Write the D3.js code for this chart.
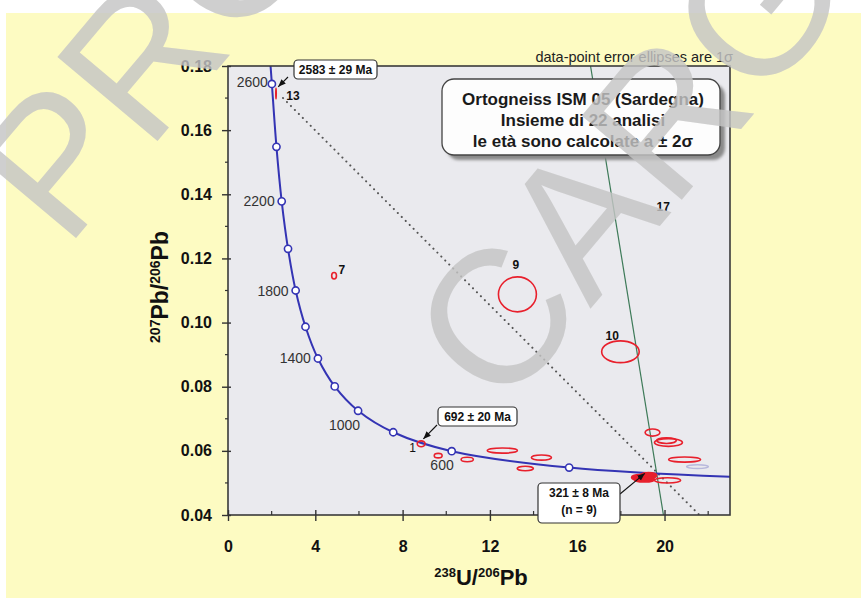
<!DOCTYPE html>
<html>
<head>
<meta charset="utf-8">
<script src="https://cdn.jsdelivr.net/npm/d3@7"></script>
<style>
  html, body { margin: 0; padding: 0; background: #ffffff; }
  svg { display: block; font-family: "Liberation Sans", Arial, sans-serif; }
</style>
</head>
<body>
<svg id="chart" width="861" height="598"></svg>
<script>
// concordia age markers (Ma) and their positions
const concordiaAges = [400, 600, 800, 1000, 1200, 1400, 1600, 1800, 2000, 2200, 2400, 2600];
const concordiaX = [15.63, 10.25, 7.57, 5.96, 4.89, 4.12, 3.55, 3.10, 2.75, 2.46, 2.22, 2.01];
const concordiaY = [0.0548, 0.0599, 0.0658, 0.0725, 0.0801, 0.0888, 0.0987, 0.1100, 0.1230, 0.1378, 0.1548, 0.1744];
// ends of the concordia where it leaves the plot
const concordiaEndX = [1.95, 23.0];
const concordiaEndY = [0.18, 0.0519];

// data-point error ellipses (1 sigma)
const ellipseX  = [2.20, 4.86, 13.26, 17.98, 8.85, 9.63, 10.96, 12.57, 13.62, 14.36, 19.45, 20.18, 20.09, 20.92, 18.90, 19.27, 19.08, 20.14];
const ellipseY  = [0.1714, 0.1146, 0.1088, 0.0909, 0.0622, 0.0585, 0.0573, 0.0601, 0.0545, 0.0579, 0.0657, 0.0626, 0.0632, 0.0573, 0.0517, 0.0523, 0.0511, 0.0508];
const ellipseSx = [0.01, 0.11, 0.87, 0.86, 0.18, 0.18, 0.28, 0.69, 0.37, 0.46, 0.34, 0.64, 0.45, 0.73, 0.41, 0.37, 0.46, 0.60];
const ellipseSy = [0.0017, 0.0010, 0.00545, 0.0034, 0.0009, 0.0007, 0.0007, 0.0008, 0.0007, 0.0008, 0.0011, 0.0012, 0.0009, 0.0008, 0.0009, 0.0009, 0.0008, 0.0008];
const ellipseFilled = [true, false, false, false, false, false, false, false, false, false, false, false, false, false, true, true, true, false];
// excluded analysis drawn faintly
const faintX = [21.51], faintY = [0.0551], faintSx = [0.5], faintSy = [0.0006];

// analysis numbers
const spotLabels = ["13", "7", "9", "10", "17", "1"];
const spotLabelX = [2.98, 5.22, 13.19, 17.60, 19.94, 8.46];
const spotLabelY = [0.1694, 0.1151, 0.1167, 0.0946, 0.1348, 0.0596];

// regression (discordia) line and reference dotted line
const discordiaX = [16.61, 19.95], discordiaY = [0.18, 0.04];
const dottedX = [2.52, 21.60], dottedY = [0.1700, 0.04];

// age results
const ageText = [["2583 ± 29 Ma"], ["692 ± 20 Ma"], ["321 ± 8 Ma", "(n = 9)"]];
const agePointX = [2.30, 8.95, 19.10];
const agePointY = [0.1735, 0.0637, 0.0530];

const xTicks = [0, 4, 8, 12, 16, 20];
const yTicks = [0.04, 0.06, 0.08, 0.10, 0.12, 0.14, 0.16, 0.18];

const titleLines = ["Ortogneiss ISM 05 (Sardegna)", "Insieme di 22 analisi", "le età sono calcolate a ± 2σ"];
const watermarkLines = ["PRO", "CARG"];

const svg = d3.select("#chart");
const W = 861, H = 598;
const pL = 228, pR = 730, pT = 66, pB = 515;

svg.append("rect").attr("x", 6).attr("y", 13).attr("width", W - 6).attr("height", H - 13).attr("fill", "#fdfbc2");

const x = d3.scaleLinear().domain([0, 23.0]).range([pL, pR]);
const y = d3.scaleLinear().domain([0.04, 0.18]).range([pB, pT]);

const defs = svg.append("defs");
defs.append("clipPath").attr("id", "plotclip")
  .append("rect").attr("x", pL).attr("y", pT).attr("width", pR - pL).attr("height", pB - pT);
const mk = defs.append("marker").attr("id", "arrow")
  .attr("viewBox", "0 0 10 10").attr("refX", 10).attr("refY", 5)
  .attr("markerWidth", 7).attr("markerHeight", 7).attr("orient", "auto-start-reverse");
mk.append("path").attr("d", "M0,1 L10,5 L0,9 Z").attr("fill", "#111");
defs.append("filter").attr("id", "blur").append("feGaussianBlur").attr("stdDeviation", 1.5);

svg.append("rect").attr("x", pL).attr("y", pT).attr("width", pR - pL).attr("height", pB - pT)
  .attr("fill", "#eaeaee");

const plot = svg.append("g").attr("clip-path", "url(#plotclip)");

// dotted line
plot.append("line")
  .attr("x1", x(dottedX[0])).attr("y1", y(dottedY[0]))
  .attr("x2", x(dottedX[1])).attr("y2", y(dottedY[1]))
  .attr("stroke", "#555").attr("stroke-width", 2).attr("stroke-linecap", "round")
  .attr("stroke-dasharray", "0.1,5.5");

// discordia
plot.append("line")
  .attr("x1", x(discordiaX[0])).attr("y1", y(discordiaY[0]))
  .attr("x2", x(discordiaX[1])).attr("y2", y(discordiaY[1]))
  .attr("stroke", "#3d7a58").attr("stroke-width", 1.2);

// concordia curve
const curvePts = [[concordiaEndX[0], concordiaEndY[0]]]
  .concat(concordiaX.map((d, i) => [d, concordiaY[i]]).reverse())
  .concat([[concordiaEndX[1], concordiaEndY[1]]]);
plot.append("path")
  .attr("d", d3.line().x(d => x(d[0])).y(d => y(d[1])).curve(d3.curveCatmullRom.alpha(0.5))(curvePts))
  .attr("fill", "none").attr("stroke", "#3434b4").attr("stroke-width", 2);

// ellipses
plot.selectAll("ellipse.faint").data(faintX).enter().append("ellipse")
  .attr("cx", (d, i) => x(d)).attr("cy", (d, i) => y(faintY[i]))
  .attr("rx", (d, i) => x(d + faintSx[i]) - x(d)).attr("ry", (d, i) => y(faintY[i]) - y(faintY[i] + faintSy[i]))
  .attr("fill", "none").attr("stroke", "#b8b8dc").attr("stroke-width", 1.5);

plot.selectAll("ellipse.spot").data(ellipseX).enter().append("ellipse")
  .attr("class", "spot")
  .attr("cx", d => x(d)).attr("cy", (d, i) => y(ellipseY[i]))
  .attr("rx", (d, i) => x(d + ellipseSx[i]) - x(d))
  .attr("ry", (d, i) => y(ellipseY[i]) - y(ellipseY[i] + ellipseSy[i]))
  .attr("fill", (d, i) => ellipseFilled[i] ? "#e8202c" : "none")
  .attr("stroke", "#e8202c").attr("stroke-width", 1.6);

// concordia markers
plot.selectAll("circle.age").data(concordiaX).enter().append("circle")
  .attr("cx", d => x(d)).attr("cy", (d, i) => y(concordiaY[i])).attr("r", 3.6)
  .attr("fill", "#ffffff").attr("stroke", "#3434b4").attr("stroke-width", 1.6);

// age labels on concordia
concordiaAges.forEach((a, i) => {
  if ((a - 600) % 400 !== 0) return;
  const px = x(concordiaX[i]), py = y(concordiaY[i]);
  let tx = px - 7, ty = py + 5;
  if (a === 2600) { tx = px - 4; ty = py + 3; }
  if (a === 1000) { tx = px + 2; ty = py + 19; }
  if (a === 600) { tx = px + 2; ty = py + 19; }
  svg.append("text").attr("x", tx).attr("y", ty).attr("text-anchor", "end")
    .attr("font-size", 14).attr("fill", "#333").text(a);
});

// spot labels
spotLabels.forEach((s, i) => {
  svg.append("text").attr("x", x(spotLabelX[i])).attr("y", y(spotLabelY[i]))
    .attr("text-anchor", "middle").attr("font-size", 12)
    .attr("font-weight", s === "1" ? "normal" : "bold").attr("fill", "#111").text(s);
});

// frame
svg.append("rect").attr("x", pL).attr("y", pT).attr("width", pR - pL).attr("height", pB - pT)
  .attr("fill", "none").attr("stroke", "#3a3a3a").attr("stroke-width", 1.6);

// axes
const xAxis = svg.append("g").attr("transform", `translate(0,${pB})`)
  .call(d3.axisBottom(x).tickValues(xTicks).tickSize(6).tickFormat(d3.format("d")));
xAxis.select(".domain").remove();
xAxis.selectAll(".tick line").attr("y1", -5).attr("stroke", "#333").attr("stroke-width", 1.4);
xAxis.selectAll(".tick text").attr("dy", 0).attr("y", 37).attr("font-size", 16).attr("font-weight", "bold")
  .attr("font-family", "Liberation Sans, Arial, sans-serif").attr("fill", "#111");
xAxis.selectAll(".minor").data(d3.range(2, 23, 4)).enter().append("line").attr("class", "minor")
  .attr("x1", d => x(d)).attr("x2", d => x(d)).attr("y1", -4).attr("y2", 0)
  .attr("stroke", "#333").attr("stroke-width", 1.2);

const yAxis = svg.append("g").attr("transform", `translate(${pL},0)`)
  .call(d3.axisLeft(y).tickValues(yTicks).tickSize(6).tickFormat(d3.format(".2f")));
yAxis.select(".domain").remove();
yAxis.selectAll(".tick line").attr("x1", 3).attr("stroke", "#333").attr("stroke-width", 1.4);
yAxis.selectAll(".tick text").attr("x", -16).attr("font-size", 16).attr("font-weight", "bold")
  .attr("font-family", "Liberation Sans, Arial, sans-serif").attr("fill", "#111");
yAxis.selectAll(".minor").data(d3.range(0.05, 0.18, 0.02)).enter().append("line").attr("class", "minor")
  .attr("y1", d => y(d)).attr("y2", d => y(d)).attr("x1", -3).attr("x2", 0)
  .attr("stroke", "#333").attr("stroke-width", 1.2);

// axis titles
const xt = svg.append("text").attr("x", (pL + pR) / 2 + 2).attr("y", 585).attr("text-anchor", "middle")
  .attr("font-weight", "bold").attr("fill", "#111");
xt.append("tspan").attr("font-size", 13).attr("dy", -8).text("238");
xt.append("tspan").attr("font-size", 22).attr("dy", 8).text("U/");
xt.append("tspan").attr("font-size", 13).attr("dy", -8).text("206");
xt.append("tspan").attr("font-size", 22).attr("dy", 8).text("Pb");

const yt = svg.append("text").attr("transform", "translate(168,287) rotate(-90)").attr("text-anchor", "middle")
  .attr("font-weight", "bold").attr("fill", "#111");
yt.append("tspan").attr("font-size", 14).attr("dy", -8).text("207");
yt.append("tspan").attr("font-size", 23).attr("dy", 8).text("Pb/");
yt.append("tspan").attr("font-size", 14).attr("dy", -8).text("206");
yt.append("tspan").attr("font-size", 23).attr("dy", 8).text("Pb");

// top note
svg.append("text").attr("x", 733).attr("y", 62).attr("text-anchor", "end").attr("font-size", 14.5)
  .attr("fill", "#222").text("data-point error ellipses are 1σ");

// title box
svg.append("rect").attr("x", 447).attr("y", 84).attr("width", 278).attr("height", 76).attr("rx", 12)
  .attr("fill", "#8a8a8a").attr("filter", "url(#blur)");
svg.append("rect").attr("x", 442).attr("y", 79).attr("width", 278).attr("height", 76).attr("rx", 12)
  .attr("fill", "#fdfdfd").attr("stroke", "#444").attr("stroke-width", 1.3);
titleLines.forEach((t, i) => {
  svg.append("text").attr("x", 583).attr("y", 105 + i * 21).attr("text-anchor", "middle")
    .attr("font-size", 17).attr("font-weight", "bold").attr("fill", "#1a1a1a").text(t);
});

// age boxes with arrows
const boxes = [
  { x: 294, y: 60, w: 83, h: 19, ax: 288, ay: 77 },
  { x: 438, y: 407, w: 79, h: 19, ax: 437, ay: 425 },
  { x: 538, y: 483, w: 82, h: 40, ax: 620, ay: 494 }
];
boxes.forEach((b, i) => {
  svg.append("line").attr("x1", b.ax).attr("y1", b.ay)
    .attr("x2", x(agePointX[i])).attr("y2", y(agePointY[i]))
    .attr("stroke", "#111").attr("stroke-width", 1.1).attr("marker-end", "url(#arrow)");
  svg.append("rect").attr("x", b.x).attr("y", b.y).attr("width", b.w).attr("height", b.h)
    .attr("rx", 4).attr("fill", "#ffffff").attr("stroke", "#333").attr("stroke-width", 1.2);
  ageText[i].forEach((t, j) => {
    svg.append("text").attr("x", b.x + b.w / 2).attr("y", b.y + 14 + j * 17)
      .attr("text-anchor", "middle").attr("font-size", 12).attr("font-weight", "bold")
      .attr("fill", "#111").text(t);
  });
});

// watermark stamped over the picture
const wmStart = [[66, 250], [502, 414]];
watermarkLines.forEach((t, i) => {
  svg.append("text")
    .attr("transform", `translate(${wmStart[i][0]},${wmStart[i][1]}) rotate(-50)`)
    .attr("font-size", 190).attr("fill", "#c4c4c4").attr("fill-opacity", 0.82)
    .text(t);
});
</script>
</body>
</html>
